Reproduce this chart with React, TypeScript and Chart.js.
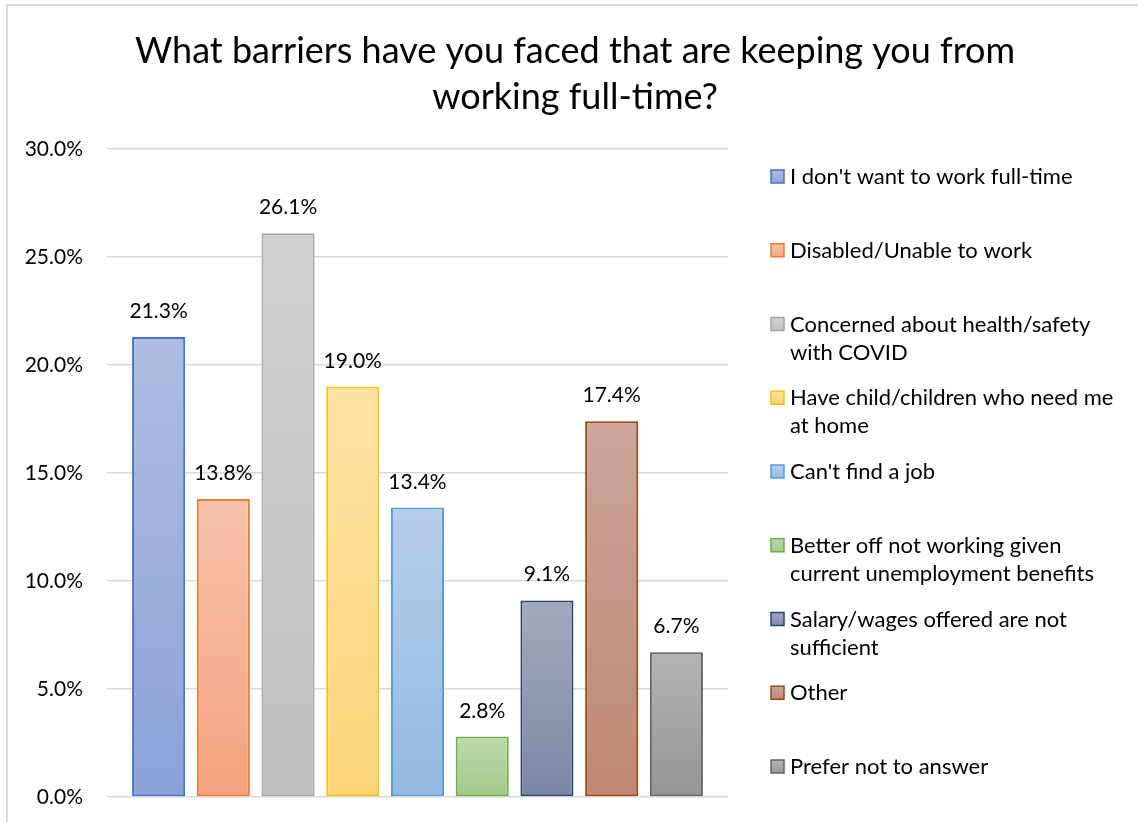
import React, { useEffect, useRef } from "react";
import { Chart, registerables } from "chart.js";

Chart.register(...registerables);

const TITLE_LINES = ["What barriers have you faced that are keeping you from", "working full-time?"];

const SERIES = [
  "I don't want to work full-time",
  "Disabled/Unable to work",
  "Concerned about health/safety with COVID",
  "Have child/children who need me at home",
  "Can't find a job",
  "Better off not working given current unemployment benefits",
  "Salary/wages offered are not sufficient",
  "Other",
  "Prefer not to answer",
];

const LEGEND_LINES = [
  ["I don't want to work full-time"],
  ["Disabled/Unable to work"],
  ["Concerned about health/safety", "with COVID"],
  ["Have child/children who need me", "at home"],
  ["Can't find a job"],
  ["Better off not working given", "current unemployment benefits"],
  ["Salary/wages offered are not", "sufficient"],
  ["Other"],
  ["Prefer not to answer"],
];

const VALUES = [21.3, 13.8, 26.1, 19.0, 13.4, 2.8, 9.1, 17.4, 6.7];

const BORDER_COLORS = ["#4472C4", "#ED7D31", "#A5A5A5", "#FFC000", "#5B9BD5", "#70AD47", "#264478", "#9E480E", "#636363"];
const FILL_TOP = ["#AEBCE2", "#F8C3AC", "#D2D2D2", "#FFE2A3", "#B6CEEA", "#BADAA9", "#A4A9BE", "#CCA59B", "#B3B3B3"];
const FILL_BOTTOM = ["#8AA2D8", "#F4A27E", "#BFBFBF", "#FDD47A", "#93B8E2", "#A2CA8C", "#7C86A4", "#BF8773", "#959595"];

const Y_TICKS_MIN = 0;
const Y_TICKS_MAX = 30;
const Y_TICKS_STEP = 5;

const FONT = "Lato, 'Open Sans', sans-serif";
const TEXT_COLOR = "#000000";

export default function App() {
  const ref = useRef<HTMLCanvasElement | null>(null);

  useEffect(() => {
    const canvas = ref.current;
    if (!canvas) return;

    const framePlugin = {
      id: "frame",
      beforeDraw(chart: any) {
        const ctx = chart.ctx;
        ctx.save();
        ctx.fillStyle = "#ffffff";
        ctx.fillRect(0, 0, chart.width, chart.height);
        ctx.strokeStyle = "#D9D9D9";
        ctx.lineWidth = 2;
        ctx.beginPath();
        ctx.moveTo(7, chart.height);
        ctx.lineTo(7, 5);
        ctx.lineTo(chart.width, 5);
        ctx.stroke();
        ctx.fillStyle = TEXT_COLOR;
        ctx.font = `36px ${FONT}`;
        ctx.textAlign = "center";
        ctx.textBaseline = "middle";
        TITLE_LINES.forEach((l, i) => ctx.fillText(l, 575, 51 + i * 46));
        ctx.restore();
      },
    };

    const labelsPlugin = {
      id: "valueLabels",
      afterDatasetsDraw(chart: any) {
        const ctx = chart.ctx;
        ctx.save();
        ctx.fillStyle = TEXT_COLOR;
        ctx.font = `21px ${FONT}`;
        ctx.textAlign = "center";
        ctx.textBaseline = "alphabetic";
        chart.data.datasets.forEach((ds: any, i: number) => {
          const el = chart.getDatasetMeta(i).data[0];
          if (!el) return;
          ctx.fillText(`${Number(ds.data[0]).toFixed(1)}%`, el.x, el.y - 19);
        });
        ctx.restore();
      },
    };

    const legendPlugin = {
      id: "customLegend",
      afterDraw(chart: any) {
        const ctx = chart.ctx;
        ctx.save();
        ctx.font = `22px ${FONT}`;
        ctx.textBaseline = "middle";
        ctx.textAlign = "left";
        chart.data.datasets.forEach((ds: any, i: number) => {
          const y = 177 + i * 73.75;
          const g = ctx.createLinearGradient(0, y - 7, 0, y + 7);
          g.addColorStop(0, FILL_TOP[i]);
          g.addColorStop(1, FILL_BOTTOM[i]);
          ctx.fillStyle = g;
          ctx.fillRect(771, y - 7, 13, 13);
          ctx.strokeStyle = BORDER_COLORS[i];
          ctx.lineWidth = 1.5;
          ctx.strokeRect(771, y - 7, 13, 13);
          ctx.fillStyle = TEXT_COLOR;
          LEGEND_LINES[i].forEach((line, j) => ctx.fillText(line, 790, y + j * 28));
        });
        ctx.restore();
      },
    };

    const datasets = SERIES.map((name, i) => ({
      label: name,
      data: [VALUES[i]],
      borderColor: BORDER_COLORS[i],
      borderWidth: 2,
      borderSkipped: false,
      backgroundColor: (c: any) => {
        const chart = c.chart;
        const ys = chart.scales && chart.scales.y;
        if (!ys || c.raw === undefined) return FILL_BOTTOM[i];
        const top = ys.getPixelForValue(c.raw);
        const base = ys.getPixelForValue(0);
        if (!isFinite(top) || !isFinite(base) || top === base) return FILL_BOTTOM[i];
        const g = chart.ctx.createLinearGradient(0, top, 0, base);
        g.addColorStop(0, FILL_TOP[i]);
        g.addColorStop(1, FILL_BOTTOM[i]);
        return g;
      },
      barPercentage: 0.82,
      categoryPercentage: 0.938,
    }));

    const chart = new Chart(canvas, {
      type: "bar",
      data: { labels: [""], datasets },
      plugins: [framePlugin, labelsPlugin, legendPlugin],
      options: {
        animation: false,
        responsive: false,
        maintainAspectRatio: false,
        layout: { padding: { left: 0, right: 410, top: 149, bottom: 25 } },
        plugins: {
          legend: { display: false },
          title: { display: false },
          tooltip: { enabled: false },
        },
        scales: {
          x: { display: false },
          y: {
            min: Y_TICKS_MIN,
            max: Y_TICKS_MAX,
            afterFit: (s: any) => {
              s.width = 107;
              s.paddingTop = 0;
              s.paddingBottom = 0;
            },
            border: { display: false },
            grid: { color: "#D9D9D9", lineWidth: 1.5, drawTicks: false },
            ticks: {
              stepSize: Y_TICKS_STEP,
              padding: 24,
              color: TEXT_COLOR,
              font: { family: FONT, size: 21 },
              callback: (v: any) => `${Number(v).toFixed(1)}%`,
            },
          },
        },
      },
    });

    return () => chart.destroy();
  }, []);

  return (
    <div style={{ position: "fixed", left: 0, top: 0, width: 1138, height: 822, background: "#fff" }}>
      <canvas ref={ref} width={1138} height={822} style={{ display: "block", width: 1138, height: 822 }} />
    </div>
  );
}
